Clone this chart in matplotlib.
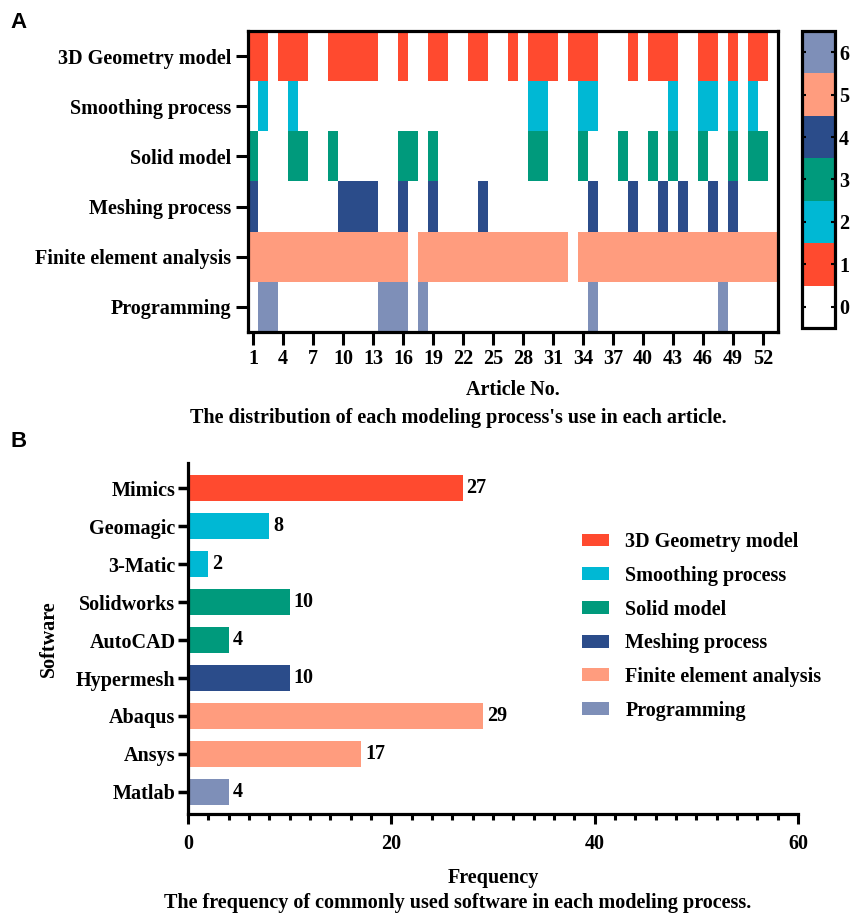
import numpy as np
import matplotlib
matplotlib.use("Agg")
import matplotlib.pyplot as plt
from matplotlib.colors import ListedColormap, BoundaryNorm
from matplotlib.patches import Patch

plt.rcParams['font.family'] = ['Liberation Serif', 'DejaVu Serif']
plt.rcParams['font.weight'] = 'bold'

# ---- panel A data: article numbers using each process ----
processes = ["3D Geometry model", "Smoothing process", "Solid model",
             "Meshing process", "Finite element analysis", "Programming"]
n_articles = 53
geometry_articles = [1, 2, 4, 5, 6, 9, 10, 11, 12, 13, 16, 19, 20, 23, 24, 27,
                     29, 30, 31, 33, 34, 35, 39, 41, 42, 43, 46, 47, 49, 51, 52]
smoothing_articles = [2, 5, 29, 30, 34, 35, 43, 46, 47, 49, 51]
solid_articles = [1, 5, 6, 9, 16, 17, 19, 29, 30, 34, 38, 41, 43, 46, 49, 51, 52]
meshing_articles = [1, 10, 11, 12, 13, 16, 19, 24, 35, 39, 42, 44, 47, 49]
fea_articles = [a for a in range(1, 54) if a not in (17, 33)]
programming_articles = [2, 3, 14, 15, 16, 18, 35, 48]
article_ticks = list(range(1, 54, 3))

# ---- panel B data ----
software = ["Mimics", "Geomagic", "3-Matic", "Solidworks", "AutoCAD",
            "Hypermesh", "Abaqus", "Ansys", "Matlab"]
frequency = [27, 8, 2, 10, 4, 10, 29, 17, 4]
software_process = [0, 1, 1, 2, 2, 3, 4, 4, 5]

colors = ["#FF4A2F", "#00B8D4", "#009A7C", "#2B4C8A", "#FF9C7E", "#7E8FB8"]

W, H = 850, 916
fig = plt.figure(figsize=(W / 100, H / 100), dpi=100)


def box(l, t, r, b):
    return [l / W, 1 - b / H, (r - l) / W, (b - t) / H]


fs = 14.5

# ---------------- panel A ----------------
grid = np.zeros((len(processes), n_articles))
for i, arts in enumerate([geometry_articles, smoothing_articles, solid_articles,
                          meshing_articles, fea_articles, programming_articles]):
    for a in arts:
        grid[i, a - 1] = i + 1

cmap = ListedColormap(["white"] + colors)
norm = BoundaryNorm(np.arange(-0.5, 7.5, 1), cmap.N)

axA = fig.add_axes(box(248, 31, 778, 332))
im = axA.imshow(grid, cmap=cmap, norm=norm, aspect='auto', interpolation='nearest',
                extent=(0.5, n_articles + 0.5, len(processes) - 0.5, -0.5))
axA.set_xticks(article_ticks)
axA.set_xticklabels([str(t) for t in article_ticks], fontsize=fs, fontweight='bold')
axA.set_yticks(range(len(processes)))
axA.set_yticklabels(processes, fontsize=fs, fontweight='bold')
for s in axA.spines.values():
    s.set_linewidth(2.3)
axA.tick_params(length=9, width=2.2, pad=3)
axA.set_xlabel("Article No.", fontsize=fs, fontweight='bold', labelpad=8)
fig.text(458 / W, 1 - 418 / H, "The distribution of each modeling process's use in each article.",
         ha='center', va='center', fontsize=fs, fontweight='bold')

cax = fig.add_axes(box(802, 31, 835, 328))
cb = fig.colorbar(im, cax=cax, ticks=range(7))
cb.outline.set_linewidth(2.3)
cax.tick_params(which='both', direction='in', length=3, width=1.5, left=True, right=True,
                labelsize=fs, pad=3)
for lab in cax.get_yticklabels():
    lab.set_fontweight('bold')
cax.minorticks_off()

# ---------------- panel B ----------------
axB = fig.add_axes(box(188, 463, 798, 814))
y = np.arange(len(software))
bars = axB.barh(y, frequency, height=0.68, color=[colors[p] for p in software_process])
axB.set_ylim(len(software) - 0.42, -0.66)
axB.set_xlim(0, 60)
axB.set_xticks([0, 20, 40, 60])
axB.set_xticks(np.arange(0, 61, 2), minor=True)
axB.set_yticks(y)
axB.set_yticklabels(software, fontsize=fs, fontweight='bold')
axB.set_xticklabels(["0", "20", "40", "60"], fontsize=fs, fontweight='bold')
for s in ["top", "right"]:
    axB.spines[s].set_visible(False)
for s in ["left", "bottom"]:
    axB.spines[s].set_linewidth(2.3)
axB.tick_params(axis='y', length=7, width=2.5, pad=2)
axB.tick_params(axis='x', which='major', length=7.5, width=2.2, pad=7)
axB.tick_params(axis='x', which='minor', length=4.5, width=2.2)
for b, v in zip(bars, frequency):
    axB.text(b.get_width() + 0.4, b.get_y() + b.get_height() / 2, str(v),
             ha='left', va='center', fontsize=fs, fontweight='bold')
axB.set_xlabel("Frequency", fontsize=fs, fontweight='bold', labelpad=10)
axB.set_ylabel("Software", fontsize=fs, fontweight='bold', labelpad=12)
fig.text(458 / W, 1 - 903 / H, "The frequency of commonly used software in each modeling process.",
         ha='center', va='center', fontsize=fs, fontweight='bold')

handles = [Patch(facecolor=c) for c in colors]
fig.legend(handles, processes, loc='upper left', bbox_to_anchor=(564 / W, 1 - 514 / H),
           frameon=False, prop={'size': fs, 'weight': 'bold'}, handlelength=1.35,
           handleheight=0.6, labelspacing=0.68, handletextpad=0.8)

fig.text(10 / W, 1 - 22 / H, "A", fontsize=16, fontweight='bold', family='Liberation Sans',
         va='center')
fig.text(10 / W, 1 - 442 / H, "B", fontsize=16, fontweight='bold', family='Liberation Sans',
         va='center')

fig.savefig("out.png", dpi=100)
